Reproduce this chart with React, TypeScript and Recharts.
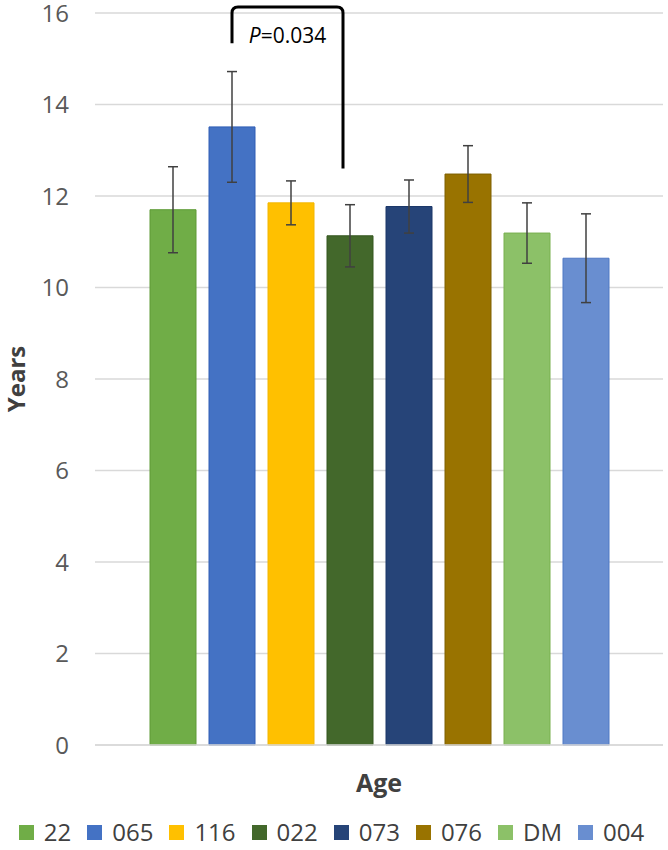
import { BarChart, Bar, XAxis, YAxis, CartesianGrid, Legend, ErrorBar } from 'recharts';

const seriesNames = ['22', '065', '116', '022', '073', '076', 'DM', '004'];
const means = [11.7, 13.51, 11.85, 11.13, 11.77, 12.48, 11.19, 10.64];
const errors = [0.94, 1.21, 0.48, 0.68, 0.58, 0.62, 0.66, 0.97];
const fills = ['#70AD47', '#4472C4', '#FFC000', '#43682B', '#264478', '#997300', '#8CC168', '#698ED0'];
const strokes = ['#5E9A36', '#2F5DB5', '#F2B600', '#34561F', '#1B3668', '#7F6000', '#78B04F', '#4F78C4'];
const category = 'Age';
const yTicks = [0, 2, 4, 6, 8, 10, 12, 14, 16];

// significance bracket between 065 and 022
const pLabel = '0.034';
const bracketLeftLow = 15.34;
const bracketTop = 16.13;
const bracketRightLow = 12.6;

const FONT = '"Open Sans", sans-serif';
const BAR_SIZE = 46;
const BAR_GAP = 13;

const row: Record<string, string | number> = { name: category };
seriesNames.forEach((s, i) => {
  row[`v${i}`] = means[i];
  row[`e${i}`] = errors[i];
});
const data = [row];

const Bracket = (props: any) => {
  const box = props.viewBox ?? props;
  const { x, y, width, height } = box;
  const value = means[1];
  const unit = height / value;
  const base = y + height;
  const toY = (v: number) => base - v * unit;
  const x1 = x + width / 2;
  const x2 = x1 + 2 * (BAR_SIZE + BAR_GAP) - 7;
  const yTop = toY(bracketTop);
  const r = 6;
  const d = `M ${x1} ${toY(bracketLeftLow)} L ${x1} ${yTop + r} Q ${x1} ${yTop} ${x1 + r} ${yTop} L ${x2 - r} ${yTop} Q ${x2} ${yTop} ${x2} ${yTop + r} L ${x2} ${toY(bracketRightLow)}`;
  return (
    <g>
      <path d={d} fill="none" stroke="#000" strokeWidth={3} />
      <text x={(x1 + x2) / 2} y={toY(bracketLeftLow)} textAnchor="middle" fontFamily={FONT} fontSize={21} fill="#000">
        <tspan fontStyle="italic">P</tspan>={pLabel}
      </text>
    </g>
  );
};

const renderLegend = (props: any) => {
  const items = [...(props.payload ?? [])].sort(
    (a: any, b: any) => seriesNames.indexOf(a.value) - seriesNames.indexOf(b.value),
  );
  return (
    <div
      style={{
        display: 'flex',
        justifyContent: 'center',
        alignItems: 'center',
        columnGap: 16,
        height: 30,
        lineHeight: '30px',
        fontFamily: FONT,
        fontSize: 24,
        color: '#404040',
      }}
    >
      {items.map((p: any) => (
        <span key={p.value} style={{ display: 'flex', alignItems: 'center' }}>
          <span style={{ width: 15, height: 15, background: p.color, marginRight: 10, display: 'inline-block' }} />
          {p.value}
        </span>
      ))}
    </div>
  );
};

export default function App() {
  return (
    <div style={{ position: 'absolute', left: 0, top: 0, width: 668, height: 850, background: '#fff' }}>
      <BarChart
        width={668}
        height={850}
        data={data}
        margin={{ top: 13, right: 5, left: 0, bottom: 3 }}
        barSize={BAR_SIZE}
        barGap={BAR_GAP}
      >
        <CartesianGrid vertical={false} stroke="#d9d9d9" strokeWidth={1.5} />
        <XAxis
          dataKey="name"
          height={72}
          axisLine={{ stroke: '#d9d9d9', strokeWidth: 1.5 }}
          tickLine={false}
          tickSize={0}
          tickMargin={29}
          tick={{ fontFamily: FONT, fontSize: 25, fontWeight: 'bold', fill: '#404040' }}
        />
        <YAxis
          width={95}
          domain={[0, 16]}
          ticks={yTicks}
          axisLine={false}
          tickLine={false}
          tickSize={0}
          tickMargin={26}
          tick={{ fontFamily: FONT, fontSize: 24, fill: '#595959' }}
          label={(lp: any) => {
            const vb = lp.viewBox ?? { y: 13, height: 732 };
            const cy = vb.y + vb.height / 2;
            return (
              <text
                x={15}
                y={cy}
                transform={`rotate(-90, 15, ${cy})`}
                textAnchor="middle"
                dominantBaseline="central"
                fontFamily={FONT}
                fontSize={24}
                fontWeight="bold"
                fill="#404040"
              >
                Years
              </text>
            );
          }}
        />
        <Legend verticalAlign="bottom" content={renderLegend} />
        {seriesNames.map((s, i) => (
          <Bar
            key={s}
            dataKey={`v${i}`}
            name={s}
            fill={fills[i]}
            stroke={strokes[i]}
            strokeWidth={1}
            isAnimationActive={false}
            label={i === 1 ? (lp: any) => <Bracket {...lp} /> : undefined}
          >
            <ErrorBar dataKey={`e${i}`} width={5} stroke="#404040" strokeWidth={1.5} direction="y" />
          </Bar>
        ))}
      </BarChart>
    </div>
  );
}
